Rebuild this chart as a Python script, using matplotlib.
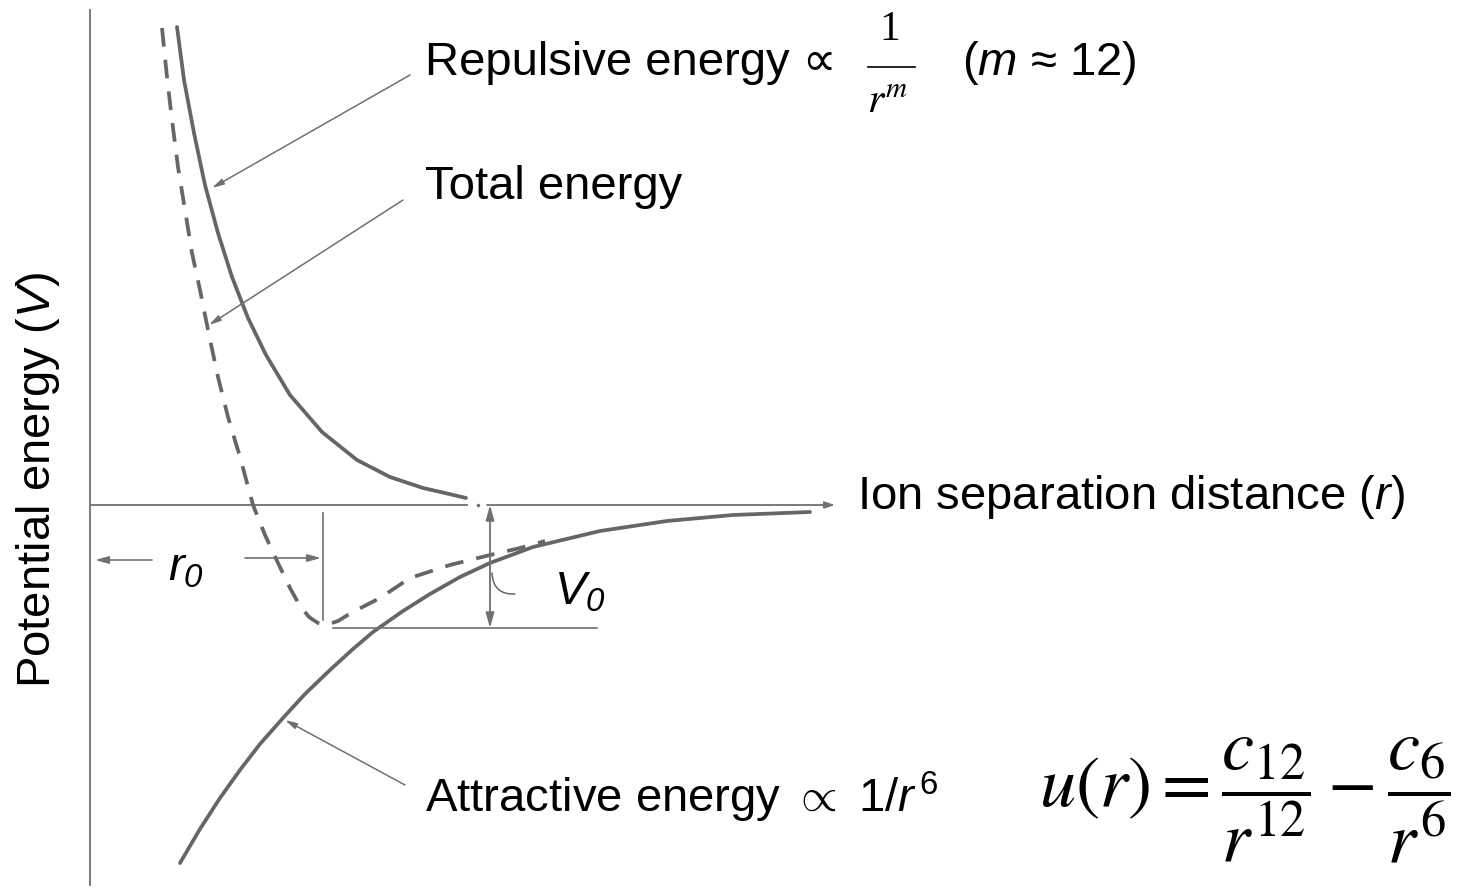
import matplotlib
matplotlib.use("Agg")
import matplotlib.pyplot as plt

plt.rcParams['font.family'] = ['Liberation Sans', 'DejaVu Sans']
plt.rcParams['mathtext.fontset'] = 'custom'
plt.rcParams['mathtext.rm'] = 'Liberation Sans'
plt.rcParams['mathtext.it'] = 'Liberation Sans:italic'
plt.rcParams['mathtext.sf'] = 'Liberation Sans:italic'
plt.rcParams['mathtext.bf'] = 'Liberation Sans:bold'

# ---- data (separation r, potential energy V, arbitrary units) ----
rep_r = [0.87, 0.94, 1.04, 1.15, 1.28, 1.42, 1.58, 1.76, 2.00, 2.32, 2.67, 3.00, 3.33, 3.55, 3.76]
rep_V = [4.78, 4.25, 3.72, 3.20, 2.72, 2.28, 1.87, 1.50, 1.10, 0.73, 0.45, 0.28, 0.17, 0.12, 0.07]

tot_r = [0.72, 0.77, 0.82, 0.88, 0.95, 1.02, 1.10, 1.18, 1.28, 1.38, 1.50, 1.63, 1.75, 1.88,
         2.00, 2.10, 2.19, 2.28, 2.36, 2.48, 2.61, 2.90, 3.20, 3.60, 4.00, 4.30, 4.55]
tot_V = [4.77, 4.28, 3.85, 3.38, 2.95, 2.52, 2.15, 1.75, 1.28, 0.88, 0.48, 0.00, -0.30, -0.58,
         -0.83, -1.01, -1.12, -1.18, -1.20, -1.16, -1.08, -0.93, -0.73, -0.60, -0.50, -0.43, -0.36]

att_r = [0.90, 1.10, 1.30, 1.50, 1.70, 1.93, 2.15, 2.40, 2.63, 2.83, 3.13, 3.40, 3.70, 4.00,
         4.43, 5.10, 5.77, 6.43, 7.20]
att_V = [-3.58, -3.24, -2.93, -2.65, -2.39, -2.13, -1.89, -1.65, -1.44, -1.27, -1.06, -0.89, -0.72,
         -0.58, -0.42, -0.26, -0.16, -0.10, -0.07]

r0 = 2.33      # equilibrium separation
V0 = -1.23     # well depth

labels = {
    'rep': 'Repulsive energy \u221d',
    'tot': 'Total energy',
    'att': r'Attractive energy $\propto$ 1/$r^{\,\mathrm{6}}$',
    'xlab': 'Ion separation distance ($r$)',
    'ylab': 'Potential energy ($V$)',
}

# ---- figure ----
fig = plt.figure(figsize=(14.74, 8.91), dpi=100)
ax = fig.add_axes([0, 0, 1, 1])
ax.set_xlim(-0.90, 13.84)
ax.set_ylim(-3.86, 5.05)
ax.axis('off')

ink = '#666666'
thin = '#707070'

# axes
ax.plot([0, 0], [4.95, -3.80], color=thin, lw=1.3)
ax.plot([0, 3.77], [0, 0], color=thin, lw=1.3)
ax.plot([3.88], [0], marker='.', color=thin, ms=3)
ax.annotate('', xy=(7.45, 0), xytext=(3.97, 0),
            arrowprops=dict(arrowstyle='-|>,head_length=0.6,head_width=0.2', color=thin, lw=1.3,
                            shrinkA=0, shrinkB=0))

# curves
ax.plot(rep_r, rep_V, color=ink, lw=2.7, solid_capstyle='round', solid_joinstyle='round')
ax.plot(att_r, att_V, color=ink, lw=2.7, solid_capstyle='round', solid_joinstyle='round')
ax.plot(tot_r, tot_V, color=ink, lw=2.7, dashes=(5, 3.5))

# r0 and V0 guides
ax.plot([r0, r0], [-0.08, -1.15], color=thin, lw=1.2)
ax.plot([2.43, 5.07], [V0, V0], color=thin, lw=1.2)
ax.annotate('', xy=(4.00, 0.0), xytext=(4.00, V0),
            arrowprops=dict(arrowstyle='<|-|>,head_length=0.9,head_width=0.25', color=thin, lw=1.3,
                            shrinkA=0, shrinkB=0))
ax.annotate('', xy=(0.05, -0.55), xytext=(0.62, -0.55),
            arrowprops=dict(arrowstyle='-|>,head_length=0.8,head_width=0.22', color=thin, lw=1.2,
                            shrinkA=0, shrinkB=0))
ax.annotate('', xy=(2.31, -0.53), xytext=(1.55, -0.53),
            arrowprops=dict(arrowstyle='-|>,head_length=0.8,head_width=0.22', color=thin, lw=1.2,
                            shrinkA=0, shrinkB=0))
# small squiggle marking V0
ax.annotate('', xy=(4.25, -0.89), xytext=(4.02, -0.68),
            arrowprops=dict(arrowstyle='-', color=ink, lw=1.1,
                            connectionstyle='arc3,rad=0.5', shrinkA=0, shrinkB=0))

# pointer lines
for (x0, y0, x1, y1) in [(3.20, 4.30, 1.22, 3.17), (3.13, 3.05, 1.19, 1.80), (3.15, -2.80, 1.95, -2.15)]:
    ax.annotate('', xy=(x1, y1), xytext=(x0, y0),
                arrowprops=dict(arrowstyle='-|>,head_length=0.7,head_width=0.18', color=thin, lw=1.1,
                                shrinkA=0, shrinkB=0))

fs = 34
ax.text(3.35, 4.42, labels['rep'], fontsize=fs, va='center', ha='left')
ax.text(8.00, 4.75, '1', fontsize=30, va='center', ha='center', family='Liberation Serif')
ax.plot([7.78, 8.25], [4.38, 4.38], color='black', lw=1.2)
ax.text(7.98, 4.03, '$r^{m}$', fontsize=30, va='center', ha='center', math_fontfamily='stix')
ax.text(8.72, 4.42, '($m$ \u2248 12)', fontsize=fs, va='center', ha='left')
ax.text(3.35, 3.18, labels['tot'], fontsize=fs, va='center', ha='left')
ax.text(7.67, 0.08, labels['xlab'], fontsize=fs, va='center', ha='left')
ax.text(-0.52, 0.25, labels['ylab'], fontsize=fs, va='center', ha='center', rotation=90)
ax.text(0.96, -0.63, r'$r_{\mathsf{0}}$', fontsize=fs, va='center', ha='center')
ax.text(4.90, -0.87, r'$V_{\mathsf{0}}$', fontsize=fs, va='center', ha='center')
ax.text(3.35, -2.92, labels['att'], fontsize=fs, va='center', ha='left')
ax.text(11.55, -2.95, r'$u(r) = \dfrac{c_{12}}{r^{12}} - \dfrac{c_6}{r^6}$', fontsize=52,
        va='center', ha='center', math_fontfamily='stix')

fig.savefig('out.png', dpi=100)
